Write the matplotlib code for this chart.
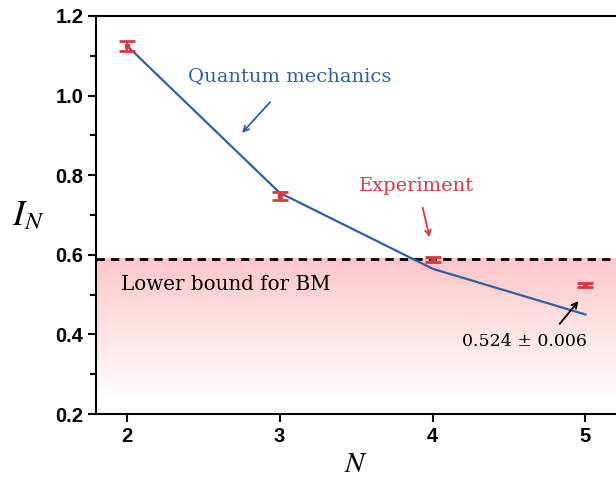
import numpy as np
import matplotlib
matplotlib.use("Agg")
import matplotlib.pyplot as plt
from matplotlib.colors import LinearSegmentedColormap
from matplotlib.ticker import MultipleLocator

plt.rcParams['mathtext.fontset'] = 'stix'

N = [2, 3, 4, 5]
qm = [1.126, 0.756, 0.565, 0.450]
exp_vals = [1.125, 0.747, 0.588, 0.524]
exp_err = [0.013, 0.010, 0.007, 0.006]
bound = 0.59
xticks = [2, 3, 4, 5]
yticks = [0.2, 0.4, 0.6, 0.8, 1.0, 1.2]

blue = '#2f5fa5'
red = '#d43a40'

fig = plt.figure(figsize=(6.16, 4.8), dpi=100)
ax = fig.add_axes([0.156, 0.1375, 0.844, 0.8292])
ax.set_xlim(1.8, 5.2)
ax.set_ylim(0.2, 1.2)

# gradient fill below bound
cmap = LinearSegmentedColormap.from_list('pk', [(0, '#ffffff'), (0.08, '#ffffff'), (1, '#fcc6c8')])
grad = np.linspace(0, 1, 256).reshape(-1, 1)
ax.imshow(grad, extent=[1.8, 5.2, 0.2, bound], origin='lower', aspect='auto',
          cmap=cmap, zorder=0)
ax.axhline(bound, color='black', lw=2, ls=(0, (3, 2.2)), zorder=2)

ax.plot(N, qm, color=blue, lw=1.6, zorder=3)
ax.errorbar(N, exp_vals, yerr=exp_err, fmt='s', color=red, ms=3, capsize=6,
            capthick=2, elinewidth=1.5, zorder=4)

ax.set_xticks(xticks)
ax.set_yticks(yticks)
ax.set_xticklabels([str(v) for v in xticks])
ax.set_yticklabels([f'{v:.1f}' for v in yticks])
ax.yaxis.set_minor_locator(MultipleLocator(0.1))
ax.tick_params(axis='both', which='major', direction='out', length=6, width=1.5,
               labelsize=14.5)
ax.tick_params(axis='y', which='major', pad=3)
ax.tick_params(axis='y', which='minor', direction='out', length=4, width=1.5)
for lab in ax.get_xticklabels() + ax.get_yticklabels():
    lab.set_fontweight('bold')
    lab.set_fontfamily('Liberation Sans')
for s in ['left', 'bottom', 'top']:
    ax.spines[s].set_linewidth(1.5)
ax.spines['right'].set_visible(False)

ax.set_xlabel('$N$', fontsize=21, labelpad=3)
ax.set_ylabel('$I_N$', fontsize=26, rotation=0, va='center', ha='center')
ax.yaxis.set_label_coords(-0.13, 0.5)

serif = 'DejaVu Serif'
ax.text(2.4, 1.05, 'Quantum mechanics', color=blue, fontsize=14, family=serif,
        va='center')
ax.annotate('', xy=(2.742, 0.901), xytext=(2.951, 0.989),
            arrowprops=dict(arrowstyle='->', color=blue, lw=1.3))
ax.text(3.52, 0.772, 'Experiment', color=red, fontsize=14, family=serif,
        va='center')
ax.annotate('', xy=(3.985, 0.637), xytext=(3.932, 0.725),
            arrowprops=dict(arrowstyle='->', color=red, lw=1.3))
ax.text(1.96, 0.525, 'Lower bound for BM', color='black', fontsize=14.3, family=serif,
        va='center')
ax.text(4.60, 0.383, '0.524 ± 0.006', color='black', fontsize=12.5, family=serif,
        va='center', ha='center')
ax.annotate('', xy=(4.966, 0.489), xytext=(4.82, 0.421),
            arrowprops=dict(arrowstyle='->', color='black', lw=1.3))

fig.savefig('out.png', dpi=100)
